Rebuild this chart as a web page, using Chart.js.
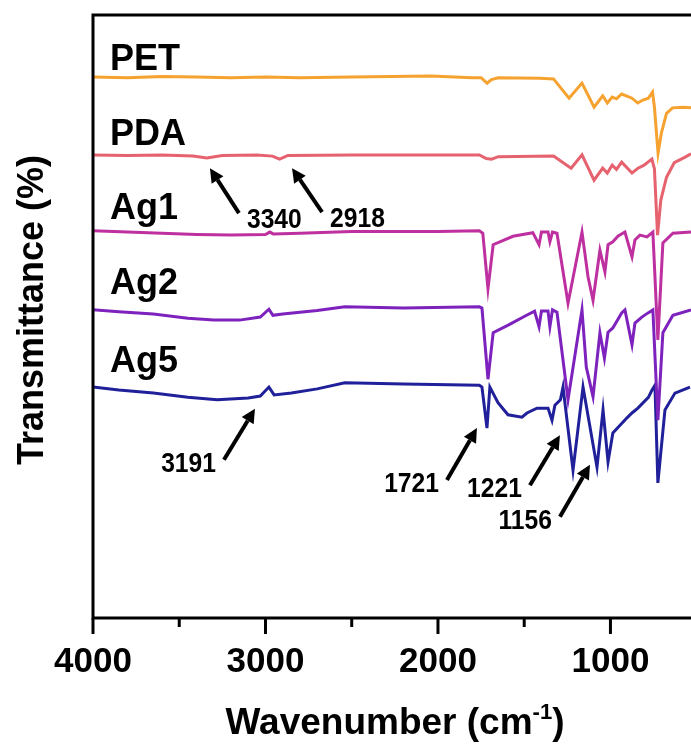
<!DOCTYPE html>
<html>
<head>
<meta charset="utf-8">
<script src="https://cdn.jsdelivr.net/npm/chart.js@4.4.1/dist/chart.umd.min.js"></script>
<style>
  html, body { margin: 0; padding: 0; background: #fff; overflow: hidden; }
  #wrap { width: 691px; height: 744px; position: relative; }
</style>
</head>
<body>
<div id="wrap"><canvas id="ftir"></canvas></div>
<script>
// FTIR spectra, stacked with offsets: [wavenumber (cm-1), transmittance (a.u.)]
const PET = [[4000, 89.7], [3800, 89.6], [3600, 89.8], [3400, 89.7], [3200, 89.6], [3000, 89.7], [2800, 89.6],
  [2500, 89.7], [2040, 89.9], [1800, 89.6], [1750, 89.6], [1715, 88.7], [1690, 89.3], [1650, 89.6], [1410, 89.5],
  [1330, 89.4], [1240, 86.2], [1165, 88.7], [1095, 84.7], [1045, 86.6], [1018, 85.4], [990, 86.4], [965, 86.1],
  [935, 86.9], [875, 86.2], [842, 85.4], [812, 85.9], [780, 86.2], [756, 87.2], [745, 84.7], [724, 77.1],
  [705, 80.4], [675, 83.7], [640, 84.6], [580, 84.7], [533, 84.6]];

const PDA = [[4000, 76.8], [3800, 76.7], [3600, 76.8], [3420, 76.6], [3340, 76.3], [3250, 76.7], [3050, 76.8],
  [2960, 76.6], [2918, 76.1], [2870, 76.7], [2500, 76.8], [2000, 76.8], [1760, 76.8], [1720, 76.2], [1690, 76.1],
  [1650, 76.5], [1330, 76.6], [1228, 74.6], [1165, 76.8], [1095, 72.6], [1045, 74.6], [1018, 73.8], [990, 75.1],
  [965, 74.4], [935, 75.6], [875, 73.8], [840, 74.6], [805, 75.1], [760, 76.1], [745, 74.5], [727, 63.5],
  [708, 69.3], [675, 73.1], [630, 75.5], [570, 76.4], [533, 77.0]];

const AG1 = [[4000, 64.2], [3800, 64.0], [3600, 63.8], [3400, 63.6], [3200, 63.5], [3000, 63.6], [2975, 64.0],
  [2955, 63.7], [2800, 63.8], [2500, 64.1], [2000, 64.1], [1760, 64.2], [1740, 63.8], [1710, 54.6], [1680, 61.9],
  [1565, 63.3], [1450, 63.9], [1414, 61.9], [1400, 64.0], [1362, 64.0], [1351, 62.4], [1336, 64.0], [1310, 63.8],
  [1246, 52.2], [1165, 64.0], [1130, 56.6], [1101, 52.7], [1061, 61.0], [1032, 57.4], [1014, 61.9], [986, 62.4],
  [957, 63.3], [916, 64.0], [875, 59.9], [858, 62.7], [829, 63.5], [788, 63.2], [754, 64.0], [725, 46.1],
  [696, 62.2], [638, 63.8], [533, 64.0]];

const AG2 = [[4000, 51.1], [3850, 50.8], [3650, 50.4], [3450, 49.7], [3300, 49.4], [3150, 49.4], [3030, 49.9],
  [2980, 51.2], [2957, 50.2], [2900, 50.4], [2700, 51.0], [2540, 51.6], [2200, 51.4], [1760, 51.6], [1745, 51.4],
  [1710, 39.6], [1680, 47.3], [1590, 48.6], [1500, 50.0], [1440, 50.9], [1414, 48.3], [1400, 50.9], [1362, 50.9],
  [1351, 48.3], [1336, 51.1], [1310, 50.7], [1246, 36.2], [1165, 51.1], [1140, 41.6], [1101, 36.7], [1061, 47.3],
  [1035, 43.1], [1014, 47.4], [986, 48.1], [935, 50.6], [916, 51.1], [875, 45.3], [858, 48.9], [818, 49.9],
  [782, 50.6], [754, 51.1], [725, 32.8], [696, 47.3], [638, 50.2], [533, 51.1]];

const AG5 = [[4000, 38.3], [3850, 37.8], [3650, 37.3], [3450, 36.6], [3280, 36.2], [3100, 36.5], [3030, 36.8],
  [2980, 38.3], [2950, 37.0], [2850, 37.3], [2700, 38.0], [2540, 39.0], [2200, 38.8], [1760, 38.6], [1745, 38.3],
  [1716, 31.5], [1699, 38.3], [1652, 35.7], [1594, 33.7], [1513, 33.3], [1484, 34.0], [1426, 34.8], [1362, 34.8],
  [1339, 32.8], [1322, 35.3], [1290, 36.2], [1275, 38.3], [1217, 24.5], [1159, 38.3], [1078, 25.0], [1043, 34.5],
  [1014, 25.9], [986, 30.7], [904, 33.2], [875, 34.0], [841, 34.8], [780, 36.6], [759, 37.8], [742, 38.6],
  [725, 22.4], [684, 34.5], [626, 37.3], [539, 38.3]];

const seriesNames = ['PET', 'PDA', 'Ag1', 'Ag2', 'Ag5'];
const seriesColors = ['#F6A230', '#E5626E', '#BE2FA0', '#7E22BE', '#20209A'];
const labelLevels = [90.9, 78.4, 66.2, 53.7, 40.8];   // baseline of each sample name

const xMajorTicks = [4000, 3000, 2000, 1000];
const xMinorTicks = [3500, 2500, 1500];

// peak callouts: label, arrow tip [wavenumber, transmittance], tail offset in px
const peakLabels = ['3340', '2918', '3191', '1721', '1221', '1156'];
const peakTips = [[3322, 74.6], [2846, 74.6], [3061, 34.7], [1774, 31.5], [1293, 30.3], [1119, 25.4]];
const peakTails = [[29, 45], [30, 44], [-31, 51], [-30, 52], [-30, 50], [-30, 52]];

const FONT = '"Liberation Sans", Arial, sans-serif';

function arrow(ctx, x0, y0, x1, y1) {
  const ang = Math.atan2(y1 - y0, x1 - x0);
  const head = 14, half = 7;
  const bx = x1 - head * Math.cos(ang), by = y1 - head * Math.sin(ang);
  ctx.lineWidth = 4;
  ctx.beginPath(); ctx.moveTo(x0, y0); ctx.lineTo(bx, by); ctx.stroke();
  ctx.beginPath();
  ctx.moveTo(x1, y1);
  ctx.lineTo(bx + half * Math.sin(ang), by - half * Math.cos(ang));
  ctx.lineTo(bx - half * Math.sin(ang), by + half * Math.cos(ang));
  ctx.closePath(); ctx.fill();
}

const decor = {
  id: 'decor',
  afterDraw(chart) {
    const { ctx, chartArea: a, scales: { x, y } } = chart;
    ctx.save();
    ctx.strokeStyle = '#000'; ctx.fillStyle = '#000';

    // frame (left, top, bottom)
    ctx.lineWidth = 3;
    ctx.beginPath();
    ctx.moveTo(a.right + 5, a.top); ctx.lineTo(a.left, a.top);
    ctx.lineTo(a.left, a.bottom); ctx.lineTo(a.right + 5, a.bottom);
    ctx.stroke();

    // tick marks
    xMajorTicks.forEach(v => {
      const px = x.getPixelForValue(v);
      ctx.beginPath(); ctx.moveTo(px, a.bottom); ctx.lineTo(px, a.bottom + 16); ctx.stroke();
    });
    xMinorTicks.forEach(v => {
      const px = x.getPixelForValue(v);
      ctx.beginPath(); ctx.moveTo(px, a.bottom); ctx.lineTo(px, a.bottom + 9); ctx.stroke();
    });

    // sample names
    ctx.font = 'bold 36px ' + FONT;
    ctx.textAlign = 'left'; ctx.textBaseline = 'alphabetic';
    seriesNames.forEach((n, i) => ctx.fillText(n, a.left + 17, y.getPixelForValue(labelLevels[i])));

    // peak callouts
    ctx.font = 'bold 28px ' + FONT;
    peakLabels.forEach((t, i) => {
      const tx = x.getPixelForValue(peakTips[i][0]), ty = y.getPixelForValue(peakTips[i][1]);
      const sx = tx + peakTails[i][0], sy = ty + peakTails[i][1];
      arrow(ctx, sx, sy, tx, ty);
      ctx.save();
      const right = peakTails[i][0] < 0;
      ctx.translate(right ? sx - 8 : sx + 8, sy + (right ? 12 : 15));
      ctx.scale(0.88, 1);
      ctx.textAlign = right ? 'right' : 'left';
      ctx.fillText(t, 0, 0);
      ctx.restore();
    });

    // y title
    ctx.save();
    ctx.translate(43, 310);
    ctx.rotate(-Math.PI / 2);
    ctx.font = 'bold 36px ' + FONT;
    ctx.textAlign = 'center';
    ctx.fillText('Transmittance (%)', 0, 0);
    ctx.restore();

    // x title with superscript
    const main = 'Wavenumber (cm', sup = '-1', tail = ')';
    ctx.font = 'bold 37px ' + FONT;
    const w1 = ctx.measureText(main).width, w3 = ctx.measureText(tail).width;
    ctx.font = 'bold 22px ' + FONT;
    const w2 = ctx.measureText(sup).width;
    let px = 395 - (w1 + w2 + w3) / 2;
    const base = 734;
    ctx.textAlign = 'left';
    ctx.font = 'bold 37px ' + FONT; ctx.fillText(main, px, base); px += w1;
    ctx.font = 'bold 22px ' + FONT; ctx.fillText(sup, px, base - 15); px += w2;
    ctx.font = 'bold 37px ' + FONT; ctx.fillText(tail, px, base);
    ctx.restore();
  }
};

const datasets = [PET, PDA, AG1, AG2, AG5].map((s, i) => ({
  label: seriesNames[i],
  data: s.map(([wn, t]) => ({ x: wn, y: t })),
  borderColor: seriesColors[i],
  borderWidth: 3,
  pointRadius: 0,
  tension: 0,
  fill: false
}));

new Chart(document.getElementById('ftir').getContext('2d'), {
  type: 'line',
  data: { datasets },
  options: {
    responsive: true,
    maintainAspectRatio: false,
    animation: false,
    layout: { padding: { left: 93, top: 15, right: 0, bottom: 0 } },
    plugins: { legend: { display: false }, tooltip: { enabled: false } },
    scales: {
      x: {
        type: 'linear',
        reverse: true,
        min: 533,
        max: 4000,
        border: { display: false },
        grid: { display: false, drawTicks: false, tickLength: 0 },
        afterBuildTicks: s => { s.ticks = xMajorTicks.map(v => ({ value: v })); },
        afterFit: s => { s.height = 126; },
        ticks: {
          autoSkip: false,
          maxRotation: 0,
          padding: 23,
          color: '#000',
          callback: v => String(v),
          font: { family: 'Liberation Sans', size: 35, weight: 'bold' }
        }
      },
      y: {
        display: false,
        min: 0,
        max: 100
      }
    }
  },
  plugins: [decor]
});
</script>
</body>
</html>
